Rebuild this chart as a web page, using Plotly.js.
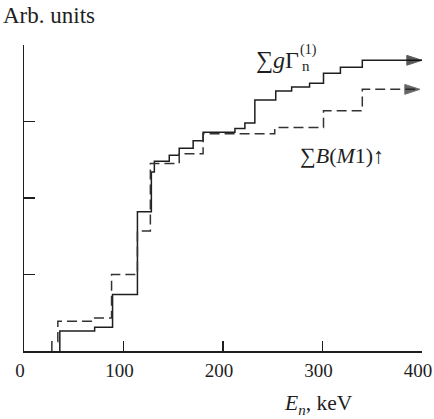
<!DOCTYPE html>
<html>
<head>
<meta charset="utf-8">
<script src="https://cdn.plot.ly/plotly-3.0.1.min.js"></script>
<style>html,body{margin:0;padding:0;background:#fff;}#chart{width:434px;height:419px;}</style>
</head>
<body>
<div id="chart"></div>
<script>
// Energies (keV) where the cumulative sums step up, and the levels reached (arb. units)
const solidEnergies = [36, 71, 89, 114, 128, 131, 146, 156, 170, 180, 212, 222, 232, 253, 269, 287, 301, 318, 340];
const solidLevels   = [0.26, 0.31, 0.74, 1.82, 2.34, 2.48, 2.56, 2.65, 2.75, 2.86, 2.91, 2.98, 3.28, 3.40, 3.45, 3.50, 3.63, 3.71, 3.80];
const solidEnd = 400;

const dashedEnergies = [28, 34, 71, 88, 114, 127, 156, 180, 252, 301, 340];
const dashedLevels   = [0.12, 0.39, 0.43, 1.00, 1.57, 2.45, 2.58, 2.84, 2.92, 3.14, 3.42];
const dashedEnd = 398;

const xTicks = [0, 100, 200, 300, 400];
const xTickText = ['0', '100', '200', '300', '400'];
const yTicks = [1, 2, 3, 4];

function stepPoints(E, L, end) {
  const x = [E[0]].concat(E, [end]);
  const y = [0].concat(L, [L[L.length - 1]]);
  const sizes = x.map((v, i) => (i === x.length - 1 ? 16 : 0));
  return {x, y, sizes};
}

const s = stepPoints(solidEnergies, solidLevels, solidEnd);
const d = stepPoints(dashedEnergies, dashedLevels, dashedEnd);
const ink = '#1e1e1e';
const serif = 'Liberation Serif, Times New Roman, serif';

const traces = [
  {x: s.x, y: s.y, mode: 'lines+markers', line: {shape: 'hv', color: ink, width: 1.5},
   marker: {symbol: 'arrow', angleref: 'previous', size: s.sizes, color: '#111'}, hoverinfo: 'skip', cliponaxis: false},
  {x: d.x, y: d.y, mode: 'lines+markers', line: {shape: 'hv', color: '#333', width: 1.5, dash: '10px,5px'},
   marker: {symbol: 'arrow', angleref: 'previous', size: d.sizes, color: '#222'}, hoverinfo: 'skip', cliponaxis: false}
];

const layout = {
  width: 434, height: 419,
  margin: {l: 24, r: 12, t: 45, b: 68, pad: 0},
  paper_bgcolor: '#fff', plot_bgcolor: '#fff',
  showlegend: false,
  xaxis: {range: [0, 400], showline: true, linecolor: ink, linewidth: 1.5, mirror: false,
          ticks: 'inside', ticklen: 10, tickwidth: 1.5, tickcolor: ink,
          tickvals: xTicks, ticktext: xTickText, showgrid: false, zeroline: false,
          ticklabeloverflow: 'allow', ticklabelstandoff: 2, ticklabelshift: -4,
          tickfont: {family: serif, size: 19, color: ink}},
  yaxis: {range: [0, 4], showline: true, linecolor: ink, linewidth: 1.5,
          ticks: 'inside', ticklen: 11, tickwidth: 1.5, tickcolor: ink,
          tickvals: yTicks, showticklabels: false, showgrid: false, zeroline: false},
  annotations: [
    {xref: 'paper', yref: 'paper', x: -0.057, y: 1.095, xanchor: 'left', yanchor: 'middle', showarrow: false,
     text: 'Arb. units', font: {family: serif, size: 23, color: ink}},
    {xref: 'paper', yref: 'paper', x: 0.648, y: -0.175, xanchor: 'left', yanchor: 'middle', showarrow: false,
     text: '<i>E</i><sub><i>n</i></sub>, keV', font: {family: serif, size: 21.5, color: ink}},
    {x: 231, y: 3.80, xanchor: 'left', yanchor: 'middle', showarrow: false,
     text: '∑<i>g</i>Γ', font: {family: serif, size: 24, color: ink}},
    {x: 275, y: 3.93, xanchor: 'left', yanchor: 'middle', showarrow: false,
     text: '(1)', font: {family: serif, size: 14, color: ink}},
    {x: 277, y: 3.72, xanchor: 'left', yanchor: 'middle', showarrow: false,
     text: 'n', font: {family: serif, size: 15, color: ink}},
    {x: 275, y: 2.56, xanchor: 'left', yanchor: 'middle', showarrow: false,
     text: '∑<i>B</i>(<i>M</i>1)↑', font: {family: serif, size: 22, color: ink}}
  ]
};

Plotly.newPlot('chart', traces, layout, {staticPlot: true, displayModeBar: false});
</script>
</body>
</html>
